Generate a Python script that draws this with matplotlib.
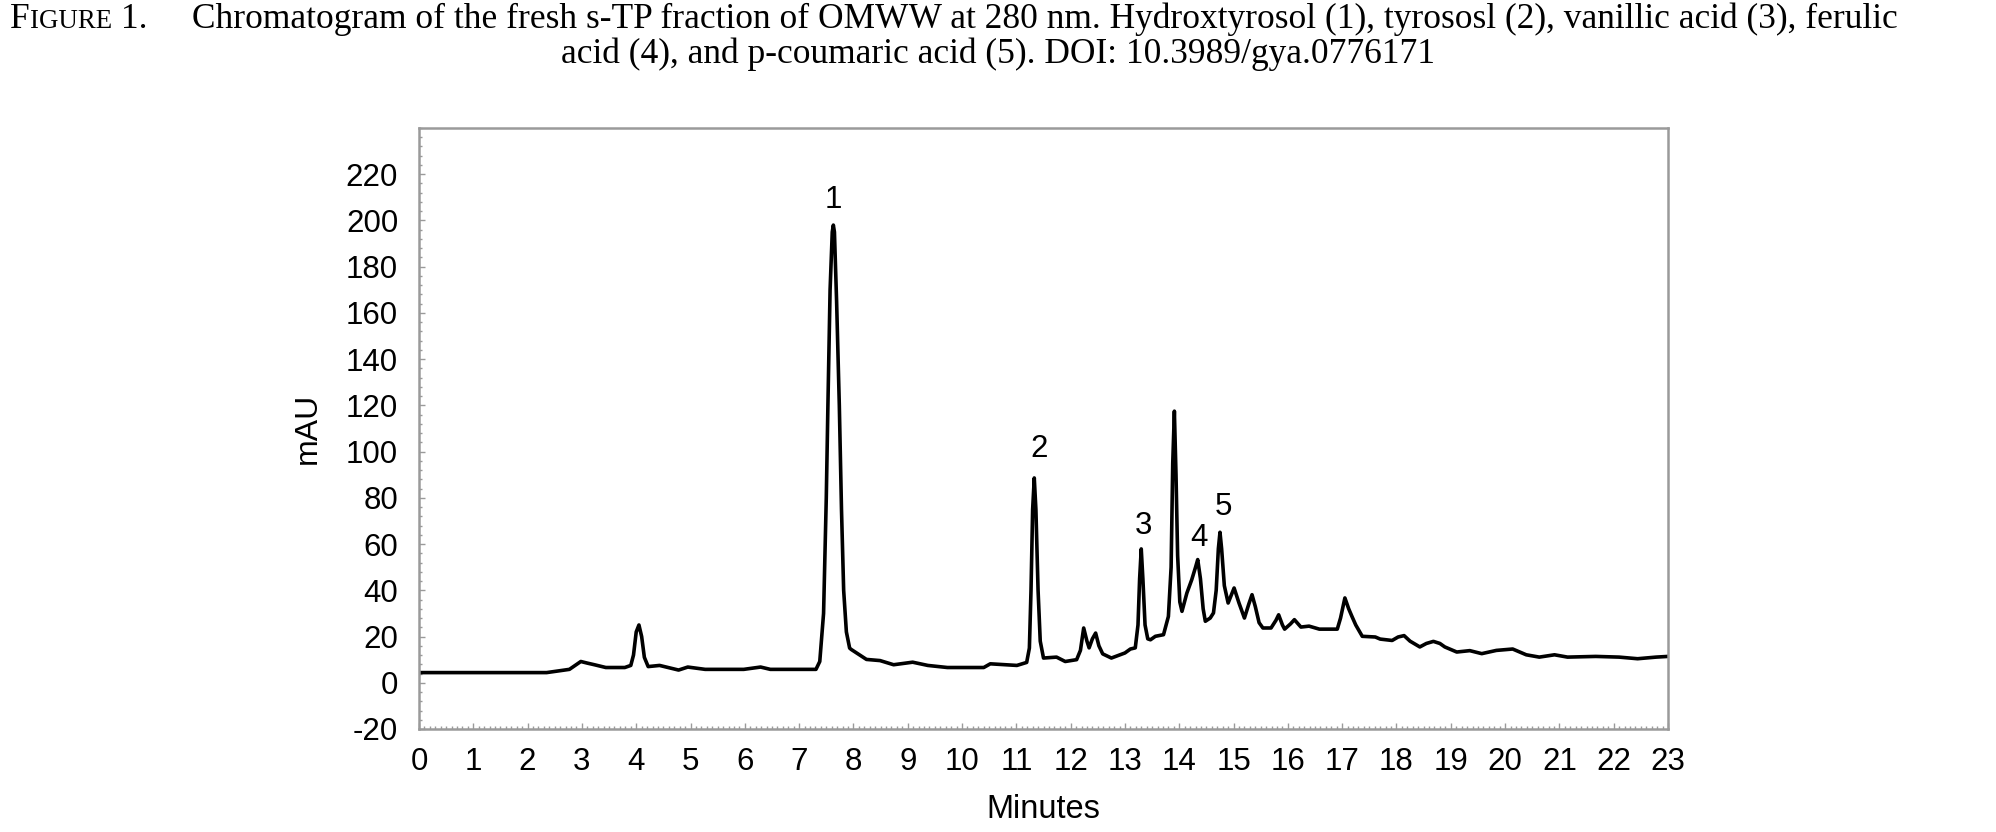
import matplotlib
matplotlib.use("Agg")
import matplotlib.pyplot as plt
from matplotlib.ticker import MultipleLocator

# retention time (min) and absorbance (mAU)
minutes = [
    0.0, 2.35, 2.77, 2.98, 3.10, 3.23, 3.44, 3.79, 3.90, 3.95, 4.00, 4.05,
    4.10, 4.15, 4.22, 4.43, 4.78, 4.95, 5.27, 5.98, 6.29, 6.47, 7.31, 7.38,
    7.45, 7.50, 7.53, 7.57, 7.61, 7.63, 7.65, 7.69, 7.74, 7.78, 7.82, 7.87,
    7.93, 7.96, 8.24, 8.49, 8.74, 9.09, 9.37, 9.73, 10.33, 10.40, 10.52,
    11.01, 11.19, 11.24, 11.27, 11.30, 11.33, 11.36, 11.40, 11.44, 11.50,
    11.74, 11.90, 12.11, 12.18, 12.24, 12.30, 12.34, 12.40, 12.46, 12.52,
    12.59, 12.75, 12.84, 13.00, 13.10, 13.19, 13.24, 13.27, 13.30, 13.33,
    13.37, 13.42, 13.47, 13.56, 13.71, 13.80, 13.85, 13.88, 13.91, 13.94,
    13.97, 14.01, 14.05, 14.14, 14.23, 14.30, 14.34, 14.39, 14.44, 14.48,
    14.57, 14.63, 14.68, 14.72, 14.75, 14.78, 14.83, 14.90, 14.96, 15.01,
    15.10, 15.20, 15.28, 15.34, 15.40, 15.47, 15.54, 15.69, 15.78, 15.83,
    15.90, 15.94, 16.05, 16.12, 16.24, 16.39, 16.58, 16.91, 16.97, 17.05,
    17.12, 17.18, 17.25, 17.37, 17.61, 17.70, 17.92, 18.03, 18.14, 18.25,
    18.43, 18.55, 18.68, 18.80, 18.89, 19.11, 19.35, 19.57, 19.84, 20.14,
    20.25, 20.39, 20.63, 20.91, 21.15, 21.67, 22.10, 22.44, 22.78, 23.0,
]
mau = [
    4.4, 4.4, 5.8, 9.2, 8.5, 7.8, 6.6, 6.6, 7.5, 12.0, 22.0, 25.0,
    20.0, 11.0, 7.0, 7.5, 5.5, 6.8, 5.8, 5.8, 6.8, 5.8, 5.8, 9.2,
    30.0, 80.0, 120.0, 170.0, 195.0, 198.0, 195.0, 165.0, 120.0, 75.0, 40.0, 22.0,
    15.0, 14.4, 10.1, 9.6, 7.8, 8.9, 7.5, 6.6, 6.6, 6.6, 8.2,
    7.5, 8.8, 15.0, 40.0, 75.0, 88.6, 75.0, 40.0, 18.0, 10.7,
    11.1, 9.2, 10.0, 14.0, 23.7, 18.0, 15.1, 19.0, 21.5, 16.0,
    12.5, 10.7, 11.5, 12.9, 14.6, 15.1, 25.0, 45.0, 57.9, 45.0,
    25.0, 19.0, 18.6, 20.1, 20.8, 28.7, 50.0, 95.0, 117.5, 90.0,
    55.0, 35.0, 30.9, 38.8, 44.6, 50.0, 53.3, 45.0, 32.0, 26.6,
    28.0, 30.2, 40.0, 58.0, 65.1, 58.0, 42.0, 34.5, 38.0, 41.0,
    34.5, 28.0, 34.0, 38.1, 33.0, 26.0, 23.7, 23.7, 27.0, 29.4,
    25.0, 23.2, 25.5, 27.3, 24.1, 24.5, 23.2, 23.2, 28.0, 36.7,
    32.0, 28.7, 25.0, 20.1, 19.8, 18.9, 18.3, 19.8, 20.4, 18.0,
    15.5, 17.0, 17.9, 17.0, 15.5, 13.3, 13.9, 12.6, 14.0, 14.6,
    13.5, 12.1, 11.1, 12.1, 11.1, 11.4, 11.1, 10.4, 11.1, 11.4,
]

# peak numbers and where they are printed
peak_ids = ["1", "2", "3", "4", "5"]
peak_x = [7.63, 11.42, 13.34, 14.36, 14.81]
peak_y = [208.7, 101.0, 67.7, 62.7, 76.1]

caption_1 = ("Chromatogram of the fresh s-TP fraction of OMWW at 280 nm. "
             "Hydroxtyrosol (1), tyrososl (2), vanillic acid (3), ferulic")
caption_2 = "acid (4), and p-coumaric acid (5). DOI: 10.3989/gya.0776171"

plt.rcParams['font.family'] = ['Liberation Sans', 'DejaVu Sans']
plt.rcParams['axes.unicode_minus'] = False

W, H = 1996, 832
fig = plt.figure(figsize=(W / 100, H / 100), dpi=100)
ax = fig.add_axes([419 / W, 1 - 729 / H, 1249 / W, 601 / H])

ax.plot(minutes, mau, color='black', linewidth=2.6, solid_joinstyle='round')

for pid, px, py in zip(peak_ids, peak_x, peak_y):
    ax.text(px, py, pid, ha='center', va='center', fontsize=22.5)

ax.set_xlim(0, 23)
ax.set_ylim(-20, 240)
ax.set_xticks(range(0, 24))
ax.set_yticks(range(-20, 221, 20))
ax.xaxis.set_minor_locator(MultipleLocator(0.1))
ax.yaxis.set_minor_locator(MultipleLocator(4))
ax.tick_params(which='both', direction='in', color='#9a9a9a', width=1,
               labelsize=22.5)
ax.tick_params(which='major', length=4)
ax.tick_params(which='minor', length=2.5)
ax.tick_params(axis='x', pad=13)
ax.tick_params(axis='y', pad=15)
for s in ax.spines.values():
    s.set_color('#9a9a9a')
    s.set_linewidth(1.8)

ax.set_xlabel('Minutes', fontsize=23.5)
ax.set_ylabel('mAU', fontsize=23)
ax.xaxis.set_label_coords(0.5, (729 - 810) / 601)
ax.xaxis.label.set_va('center')
ax.yaxis.set_label_coords((308 - 419) / 1249, (729 - 428) / 601)
ax.yaxis.label.set_va('center')

# caption: small caps "FIGURE 1." then the text
serif = ['Liberation Serif', 'DejaVu Serif']
size = 25.5
renderer = fig.canvas.get_renderer()
y1 = 1 - 28 / H
t_f = fig.text(10 / W, y1, 'F', family=serif, fontsize=size, va='baseline')
x = t_f.get_window_extent(renderer).x1
t_ig = fig.text(x / W, y1, 'IGURE', family=serif, fontsize=size * 0.76,
                va='baseline')
x = t_ig.get_window_extent(renderer).x1
t_rest = fig.text(x / W, y1, ' 1.     ' + caption_1, family=serif,
                  fontsize=size, va='baseline')
fig.text(0.5, 1 - 63 / H, caption_2, family=serif, fontsize=size,
         ha='center', va='baseline')

fig.savefig('out.png', dpi=100)
